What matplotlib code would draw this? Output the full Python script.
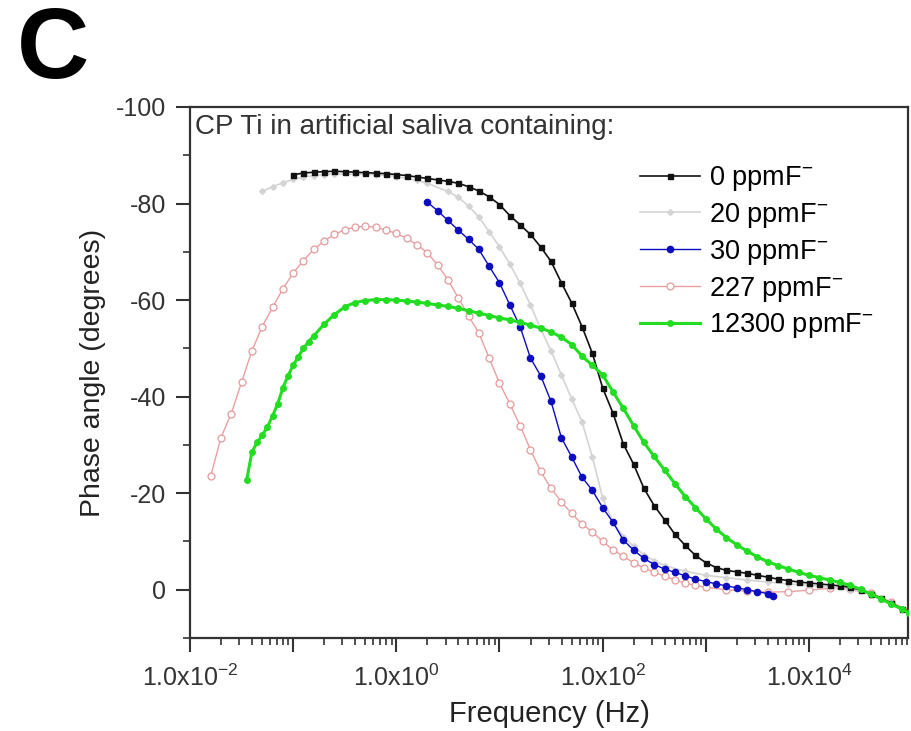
import numpy as np
import matplotlib
matplotlib.use("Agg")
import matplotlib.pyplot as plt
from matplotlib.ticker import LogLocator, FuncFormatter, MultipleLocator, NullFormatter

plt.rcParams['font.family'] = ['Liberation Sans', 'DejaVu Sans']
plt.rcParams['mathtext.fontset'] = 'custom'
plt.rcParams['mathtext.rm'] = 'Liberation Sans'
plt.rcParams['mathtext.it'] = 'Liberation Sans'
plt.rcParams['axes.unicode_minus'] = False

# data: log10(frequency / Hz) and phase angle (degrees)
logf_0 = [-1.0, -0.9, -0.8, -0.7, -0.6, -0.5, -0.4, -0.3, -0.2, -0.1, 0.0, 0.1, 0.2, 0.3, 0.4,
          0.5, 0.6, 0.7, 0.8, 0.9, 1.0, 1.1, 1.2, 1.3, 1.4, 1.5, 1.6, 1.7, 1.8, 1.9, 2.0, 2.1,
          2.2, 2.3, 2.4, 2.5, 2.6, 2.7, 2.8, 2.9, 3.0, 3.1, 3.2, 3.3, 3.4, 3.5, 3.6, 3.7, 3.8,
          3.9, 4.0, 4.1, 4.2, 4.3, 4.4, 4.5, 4.6, 4.7, 4.8, 4.9, 4.97]
phase_0 = [-86.0, -86.3, -86.5, -86.6, -86.7, -86.6, -86.5, -86.4, -86.3, -86.2, -86.0, -85.8,
           -85.5, -85.2, -84.9, -84.6, -84.2, -83.5, -82.6, -81.4, -79.8, -77.5, -75.6, -73.6,
           -71.0, -68.0, -63.6, -59.4, -54.5, -49.0, -41.8, -36.6, -30.2, -26.0, -21.0, -17.4,
           -14.5, -11.5, -9.2, -7.1, -5.6, -4.6, -4.0, -3.7, -3.4, -3.0, -2.6, -2.2, -1.9, -1.6,
           -1.4, -1.2, -1.0, -0.8, -0.5, 0.0, 0.8, 1.8, 2.8, 3.9, 4.6]

logf_20 = [-1.3, -1.2, -1.1, -1.0, -0.9, -0.8, -0.7, -0.6, -0.4, -0.2, 0.0, 0.2, 0.3, 0.5, 0.6,
           0.7, 0.8, 0.9, 1.0, 1.1, 1.2, 1.3, 1.4, 1.5, 1.6, 1.7, 1.8, 1.9, 2.0, 2.1, 2.2, 2.3,
           2.4, 2.5, 2.6, 2.8, 3.0, 3.2, 3.4, 3.6, 3.8, 4.0, 4.2, 4.4, 4.6, 4.8, 4.97]
phase_20 = [-82.5, -83.5, -84.3, -85.0, -85.5, -85.8, -86.0, -86.1, -86.1, -86.0, -85.6, -84.8,
            -84.2, -82.5, -81.3, -79.5, -77.2, -74.2, -71.0, -67.5, -63.5, -59.0, -54.0, -49.5,
            -44.5, -39.5, -34.8, -27.5, -19.0, -14.0, -11.0, -9.0, -7.2, -6.0, -5.0, -3.8, -3.0,
            -2.5, -2.0, -1.6, -1.2, -0.9, -0.5, 0.0, 1.0, 2.8, 4.6]

logf_30 = [0.3, 0.4, 0.5, 0.6, 0.7, 0.8, 0.9, 1.0, 1.1, 1.2, 1.3, 1.4, 1.5, 1.6, 1.7, 1.8, 1.9,
           2.0, 2.1, 2.2, 2.3, 2.4, 2.5, 2.6, 2.7, 2.8, 2.9, 3.0, 3.1, 3.2, 3.3, 3.4, 3.5, 3.6,
           3.65]
phase_30 = [-80.3, -78.5, -76.5, -74.5, -72.6, -70.5, -67.0, -63.6, -59.0, -54.5, -48.0, -44.3,
            -39.0, -31.5, -27.5, -23.3, -20.6, -17.0, -14.0, -10.3, -8.2, -6.5, -5.2, -4.3,
            -3.6, -2.9, -2.2, -1.7, -1.2, -0.8, -0.4, 0.0, 0.4, 0.8, 1.2]

logf_227 = [-1.8, -1.7, -1.6, -1.5, -1.4, -1.3, -1.2, -1.1, -1.0, -0.9, -0.8, -0.7, -0.6, -0.5,
            -0.4, -0.3, -0.2, -0.1, 0.0, 0.1, 0.2, 0.3, 0.4, 0.5, 0.6, 0.7, 0.8, 0.9, 1.0, 1.1,
            1.2, 1.3, 1.4, 1.5, 1.6, 1.7, 1.8, 1.9, 2.0, 2.1, 2.2, 2.3, 2.4, 2.5, 2.6, 2.7, 2.8,
            2.9, 3.0, 3.2, 3.4, 3.6, 3.8, 4.0, 4.2, 4.4, 4.6, 4.8, 4.97]
phase_227 = [-23.5, -31.5, -36.5, -43.0, -49.5, -54.5, -58.5, -62.3, -65.6, -68.2, -70.5, -72.2,
             -73.6, -74.6, -75.1, -75.3, -75.1, -74.5, -73.8, -72.8, -71.5, -69.8, -67.3, -64.2,
             -60.5, -56.7, -53.2, -48.0, -42.8, -38.5, -34.0, -29.0, -24.5, -21.0, -18.2, -15.8,
             -13.6, -12.0, -10.0, -8.3, -6.9, -5.6, -4.5, -3.6, -2.8, -2.0, -1.4, -0.9, -0.5,
             0.0, 0.3, 0.5, 0.4, 0.1, -0.3, -0.2, 0.6, 2.6, 4.4]

logf_12300 = [-1.45, -1.4, -1.35, -1.3, -1.25, -1.2, -1.15, -1.1, -1.05, -1.0, -0.95, -0.9,
              -0.85, -0.8, -0.7, -0.6, -0.5, -0.4, -0.3, -0.2, -0.1, 0.0, 0.1, 0.2, 0.3, 0.4,
              0.5, 0.6, 0.7, 0.8, 0.9, 1.0, 1.1, 1.2, 1.3, 1.4, 1.5, 1.6, 1.7, 1.8, 1.9, 2.0,
              2.1, 2.2, 2.3, 2.4, 2.5, 2.6, 2.7, 2.8, 2.9, 3.0, 3.1, 3.2, 3.3, 3.4, 3.5, 3.6,
              3.7, 3.8, 3.9, 4.0, 4.1, 4.2, 4.3, 4.4, 4.5, 4.6, 4.7, 4.8, 4.9, 4.97]
phase_12300 = [-22.8, -28.5, -30.5, -32.0, -33.7, -36.0, -38.5, -41.8, -44.3, -46.5, -48.3,
               -50.0, -51.4, -52.6, -55.0, -57.0, -58.6, -59.5, -59.9, -60.1, -60.1, -60.0,
               -59.8, -59.6, -59.3, -59.0, -58.7, -58.3, -57.8, -57.3, -56.8, -56.3, -55.9,
               -55.4, -54.8, -54.2, -53.4, -52.3, -50.8, -48.4, -46.5, -44.5, -41.0, -37.6,
               -34.0, -30.5, -27.6, -24.8, -22.0, -19.3, -17.0, -14.7, -12.6, -10.8, -9.3,
               -8.0, -6.8, -5.8, -5.0, -4.3, -3.6, -3.0, -2.5, -2.0, -1.5, -0.9, -0.1, 0.9,
               1.9, 3.0, 4.0, 4.8]

labels = ['0 ppmF$^{-}$', '20 ppmF$^{-}$', '30 ppmF$^{-}$', '227 ppmF$^{-}$', '12300 ppmF$^{-}$']

fig = plt.figure(figsize=(9.11, 7.31), dpi=100)
ax = fig.add_axes([190 / 911, 1 - 638 / 731, 718 / 911, 531 / 731])

ax.plot(10 ** np.array(logf_0), phase_0, color='#111111', lw=1.2, marker='s', ms=3.6,
        label=labels[0], zorder=5)
ax.plot(10 ** np.array(logf_20), phase_20, color='#d4d4d4', lw=1.2, marker='D', ms=3,
        label=labels[1], zorder=3)
ax.plot(10 ** np.array(logf_30), phase_30, color='#0c0cc0', lw=1.0, marker='o', ms=4.5,
        label=labels[2], zorder=4)
ax.plot(10 ** np.array(logf_227), phase_227, color='#eaa0a0', lw=1.0, marker='o', ms=5,
        mfc='white', mec='#e59a9a', mew=0.9, label=labels[3], zorder=2)
ax.plot(10 ** np.array(logf_12300), phase_12300, color='#22dd22', lw=2.2, marker='o', ms=4,
        label=labels[4], zorder=6)

ax.set_xscale('log')
ax.set_xlim(1e-2, 10 ** 4.96)
ax.set_ylim(10, -100)

ax.xaxis.set_major_locator(LogLocator(base=10, numticks=20))
ax.xaxis.set_minor_locator(LogLocator(base=10, subs=np.arange(2, 10), numticks=100))
ax.xaxis.set_minor_formatter(NullFormatter())


def fmt_freq(v, pos):
    e = int(round(np.log10(v)))
    if e % 2 != 0:
        return ''
    return '1.0x10$^{%d}$' % e


ax.xaxis.set_major_formatter(FuncFormatter(fmt_freq))
ax.yaxis.set_minor_locator(MultipleLocator(10))
ax.set_yticks([-100, -80, -60, -40, -20, 0])

for s in ax.spines.values():
    s.set_linewidth(1.6)
    s.set_color('#333333')

ax.tick_params(which='major', direction='out', length=10, width=1.5, labelsize=18,
               colors='#333333', pad=7, top=False, right=False)
ax.tick_params(which='minor', direction='out', length=5, width=1.2, colors='#333333',
               top=False, right=False)
ax.tick_params(axis='x', which='major', pad=9)

ax.set_xlabel('Frequency (Hz)', fontsize=21, color='#222222')
ax.set_ylabel('Phase angle (degrees)', fontsize=20.5, color='#222222')
ax.xaxis.label.set_va('center')
ax.yaxis.label.set_va('center')
ax.xaxis.set_label_coords(0.5, -(714 - 638) / 531)
ax.yaxis.set_label_coords((93 - 190) / 718, 0.5)

ax.text(0.007, 0.962, 'CP Ti in artificial saliva containing:', transform=ax.transAxes,
        fontsize=20, color='#333333', ha='left', va='center')

ax.legend(loc='upper left', bbox_to_anchor=(640 / 911, 1 - 164 / 731),
          bbox_transform=fig.transFigure, frameon=False, fontsize=19.5, numpoints=1,
          handlelength=2.2, handletextpad=0.35, labelspacing=0.29, borderpad=0,
          borderaxespad=0)

fig.text(17 / 911, 1 - 52 / 731, 'C', fontsize=72, fontweight='bold', ha='left', va='center')

fig.savefig('out.png', dpi=100)
